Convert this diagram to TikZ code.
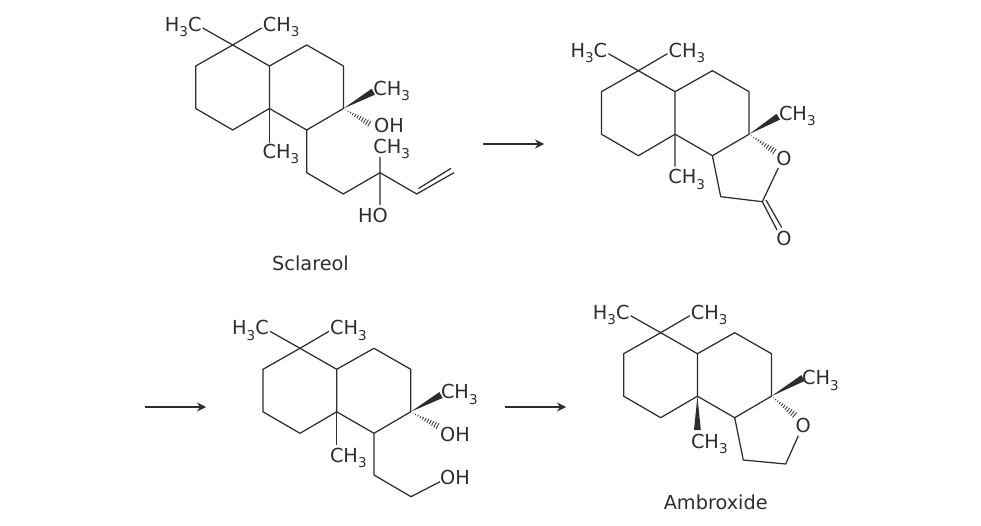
\documentclass[tikz,border=0pt]{standalone}
\usepackage{fontspec}
\setmainfont{DejaVu Sans}
\usetikzlibrary{arrows.meta, calc}
\definecolor{bondgray}{RGB}{45,45,45}
\newcommand{\sub}[1]{\raisebox{-0.28em}{\fontsize{13.5}{14}\selectfont #1}}
\newcommand{\wedgebond}[2]{\fill[bondgray] (#1) -- ($(#2)!3.4pt!90:(#1)$) -- ($(#2)!3.4pt!-90:(#1)$) -- cycle;}
\newcommand{\hashbond}[2]{\foreach \t in {1,...,12} {\coordinate (h) at ($(#1)!\t/12!(#2)$); \draw[bondgray, line width=0.8pt] ($(h)!0.3*\t pt!90:(#2)$) -- ($(h)!0.3*\t pt!-90:(#2)$);}}
\tikzset{
x=1pt, y=-1pt,
>={Stealth[length=9pt, width=9pt]}, % filled tips on the reaction arrows
bond/.style={draw=bondgray, line width=1.25pt, line join=round},
atom/.style={inner sep=0pt, text=bondgray, font=\fontsize{19.3}{23}\selectfont, text height=14pt, text depth=3pt},
reaction/.style={->, line width=1.1pt, bondgray},
decalin/.pic={
  \coordinate (-c1) at (0,0);
  \coordinate (-c2) at (-37,21);
  \coordinate (-c3) at (-37,63.5);
  \coordinate (-c4) at (0,85);
  \coordinate (-c5) at (36.7,63.5);
  \coordinate (-c6) at (36.7,21);
  \coordinate (-c7) at (74,0);
  \coordinate (-c8) at (110.7,21);
  \coordinate (-c9) at (110.7,63.5);
  \coordinate (-c10) at (74,85);
  \coordinate (-m1) at (-30,-17);
  \coordinate (-m2) at (29,-17);
  \node[atom] (-me1) at (-49.5,-19) {H\sub{3}C};
  \node[atom] (-me2) at (48.5,-19) {CH\sub{3}};
  \draw[bond] (-c1) -- (-c2) -- (-c3) -- (-c4) -- (-c5) -- (-c6) -- (-c1);
  \draw[bond] (-c6) -- (-c7) -- (-c8) -- (-c9) -- (-c10) -- (-c5);
  \draw[bond] (-c1) -- (-m1) (-c1) -- (-m2);
}
}
\begin{document}
\begin{tikzpicture}
  \useasboundingbox (0,0) rectangle (981,526);

  % sclareol
  \pic (a) at (232.7,45) {decalin};
  \coordinate (a1) at (269.4,143);
  \coordinate (a2) at (373.3,91.7);
  \coordinate (a3) at (371.7,125);
  \coordinate (a4) at (306.7,172.7);
  \coordinate (a5) at (343.3,194);
  \coordinate (a6) at (380,172.7);
  \coordinate (a7) at (380,157);
  \coordinate (a8) at (380,205);
  \coordinate (a9) at (416.7,194);
  \coordinate (a10) at (454,172.7);
  \coordinate (a11) at (418.5,188.5);
  \coordinate (a12) at (451,168.3);
  \node[atom] (ame3) at (281,153) {CH\sub{3}};
  \node[atom] (ame4) at (391.7,90) {CH\sub{3}};
  \node[atom] (aoh1) at (389,127.5) {OH};
  \node[atom] (ame5) at (391.7,148) {CH\sub{3}};
  \node[atom] (aoh2) at (373,217.5) {HO};
  \node[atom] (aname) at (310.5,265) {Sclareol};
  \draw[bond] (a-c5) -- (a1);
  \wedgebond{a-c9}{a2}
  \hashbond{a-c9}{a3}
  \draw[bond] (a-c10) -- (a4) -- (a5) -- (a6) -- (a9) -- (a10);
  \draw[bond] (a6) -- (a7) (a6) -- (a8) (a11) -- (a12);

  % lactone
  \pic (b) at (638.4,70.7) {decalin};
  \coordinate (b1) at (675.1,166.7);
  \coordinate (b2) at (778.3,116.7);
  \coordinate (b3) at (776.7,153);
  \coordinate (b4) at (778.3,168);
  \coordinate (b5) at (762.3,201.7);
  \coordinate (b6) at (720.7,196.7);
  \coordinate (b7) at (777,230);
  \coordinate (b8) at (766,200);
  \coordinate (b9) at (781.7,227.5);
  \node[atom] (bme3) at (686.7,178.3) {CH\sub{3}};
  \node[atom] (bme4) at (797.3,115) {CH\sub{3}};
  \node[atom] (bo1) at (784,160.5) {O};
  \node[atom] (bo2) at (784,240.5) {O};
  \draw[bond] (b-c5) -- (b1);
  \wedgebond{b-c9}{b2}
  \hashbond{b-c9}{b3}
  \draw[bond] (b-c10) -- (b6) -- (b5) -- (b4);
  \draw[bond] (b5) -- (b7) (b8) -- (b9);

  % diol
  \pic (c) at (300,348.3) {decalin};
  \coordinate (c1) at (336.7,445);
  \coordinate (c2) at (441,395);
  \coordinate (c3) at (440,427.3);
  \coordinate (c4) at (374,475);
  \coordinate (c5) at (411,496.7);
  \coordinate (c6) at (440,481.7);
  \node[atom] (cme3) at (348.3,456.5) {CH\sub{3}};
  \node[atom] (cme4) at (459.3,393.3) {CH\sub{3}};
  \node[atom] (coh1) at (455,436) {OH};
  \node[atom] (coh2) at (455,478.5) {OH};
  \draw[bond] (c-c5) -- (c1);
  \wedgebond{c-c9}{c2}
  \hashbond{c-c9}{c3}
  \draw[bond] (c-c10) -- (c4) -- (c5) -- (c6);

  % ambroxide
  \pic (d) at (660.7,332.7) {decalin};
  \coordinate (d1) at (697.4,430);
  \coordinate (d2) at (803,378);
  \coordinate (d3) at (796.7,416.7);
  \coordinate (d4) at (798.3,435.7);
  \coordinate (d5) at (785.7,464);
  \coordinate (d6) at (743.3,460);
  \node[atom] (dme3) at (709.3,442.7) {CH\sub{3}};
  \node[atom] (dme4) at (820.5,379.3) {CH\sub{3}};
  \node[atom] (do1) at (803.3,427) {O};
  \node[atom] (dname) at (715.7,504.3) {Ambroxide};
  \wedgebond{d-c5}{d1}
  \wedgebond{d-c9}{d2}
  \hashbond{d-c9}{d3}
  \draw[bond] (d-c10) -- (d6) -- (d5) -- (d4);

  % arrows
  \coordinate (r1) at (483,144);
  \coordinate (r2) at (544,144);
  \coordinate (r3) at (145,407);
  \coordinate (r4) at (206,407);
  \coordinate (r5) at (505,407);
  \coordinate (r6) at (566,407);
  \draw[reaction] (r1) -- (r2);
  \draw[reaction] (r3) -- (r4);
  \draw[reaction] (r5) -- (r6);
\end{tikzpicture}
\end{document}
